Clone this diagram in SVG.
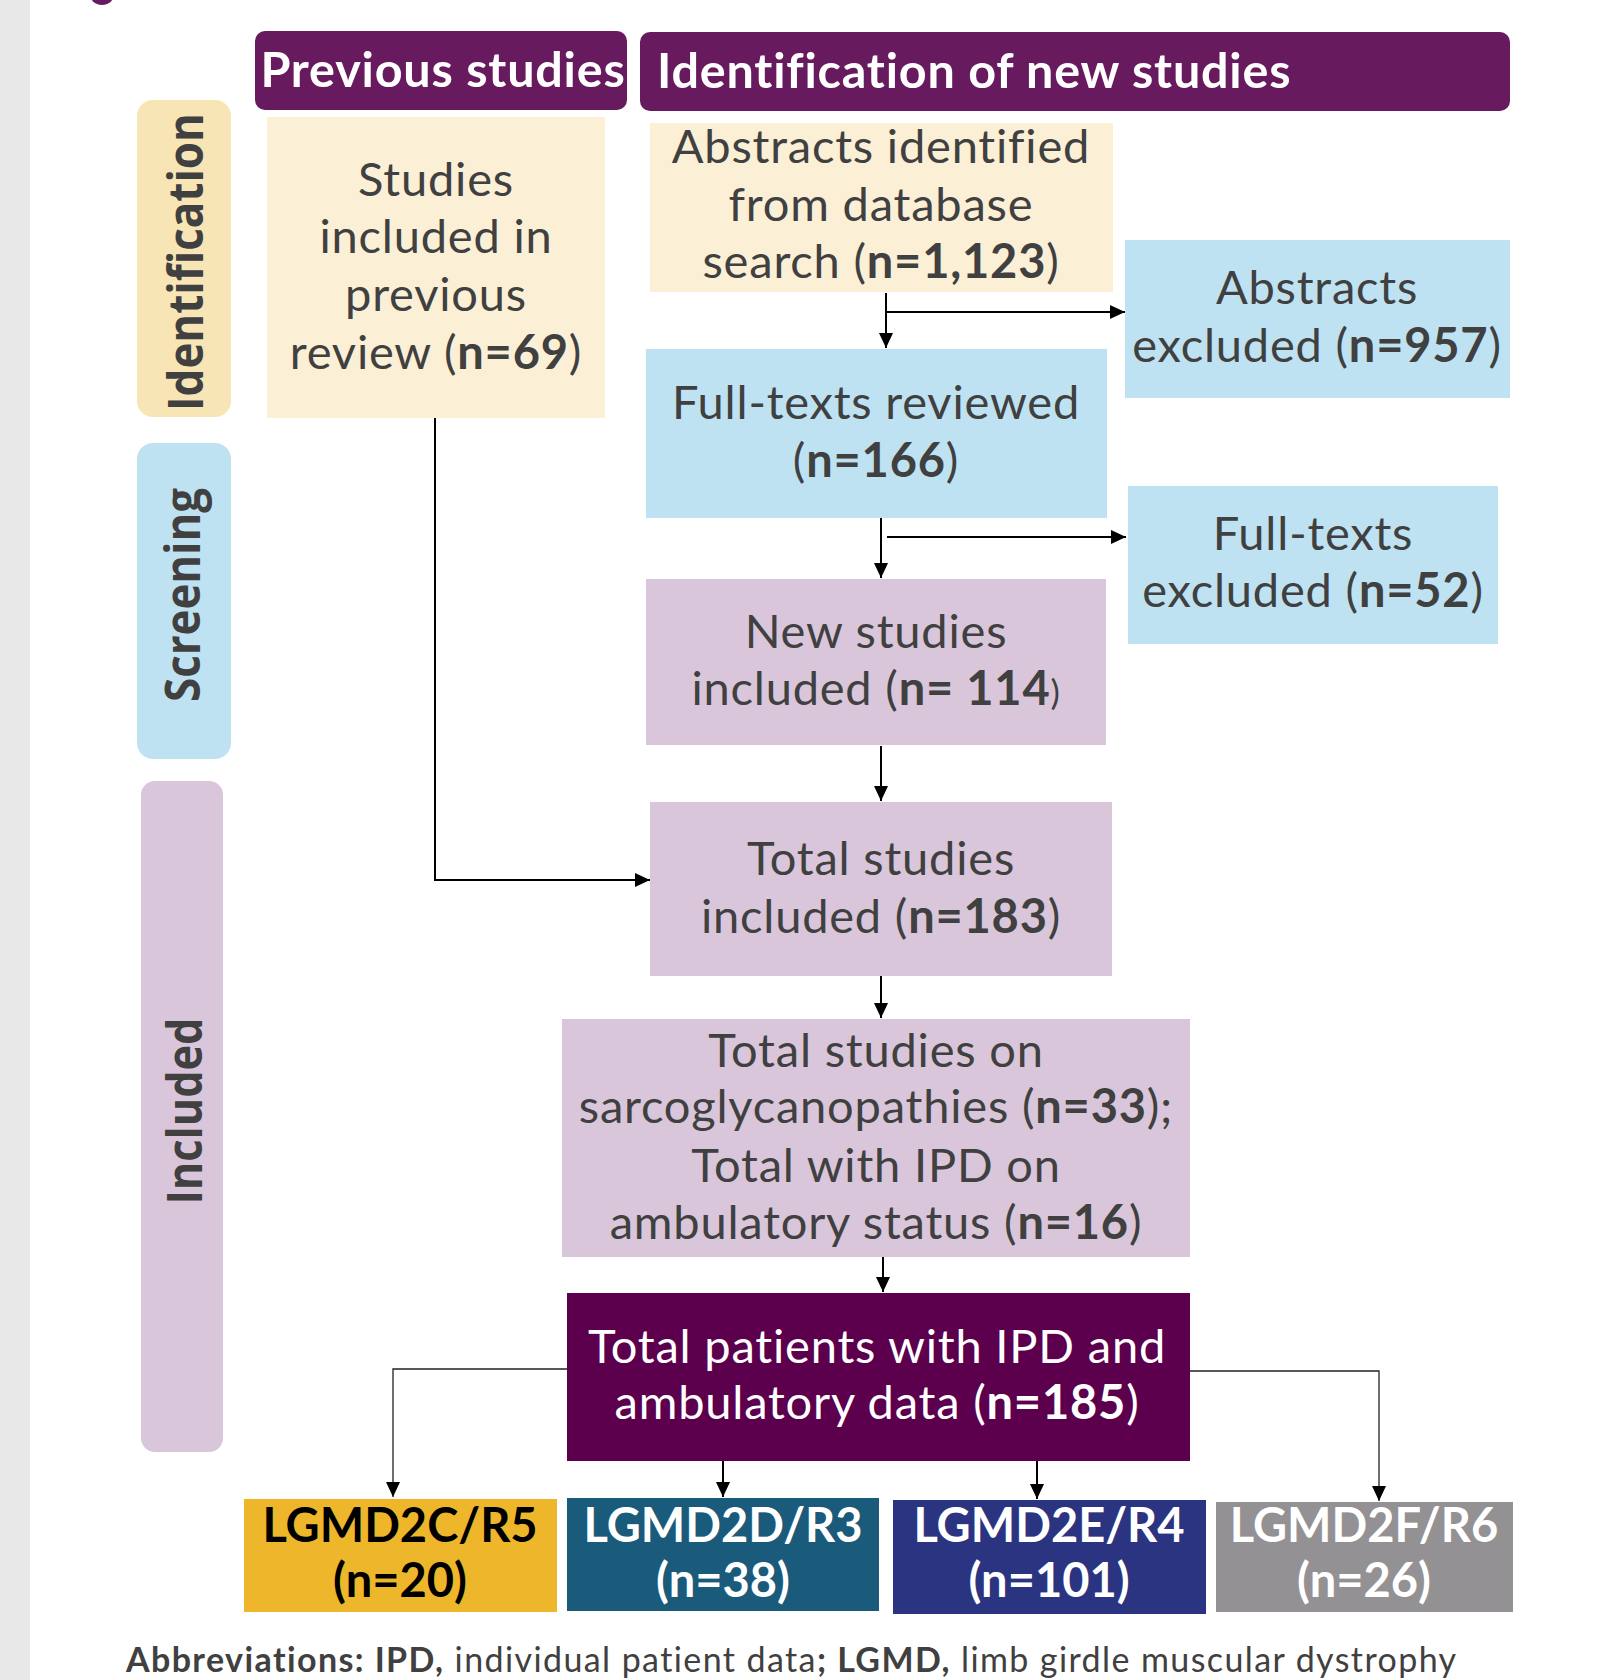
<svg xmlns="http://www.w3.org/2000/svg" width="1619" height="1680" viewBox="0 0 1619 1680">
<defs>
<style>
.t{font-family:Lato,'Liberation Sans',sans-serif;font-size:47px;letter-spacing:0.8px;fill:#404040;text-anchor:middle}
.w{fill:#ffffff}
.b{font-weight:700}
.hd{font-family:Lato,'Liberation Sans',sans-serif;font-weight:700;font-size:48.5px;letter-spacing:0.8px;fill:#ffffff}
.tab{font-family:'Open Sans','DejaVu Sans',sans-serif;font-weight:700;font-size:48px;fill:#404040;text-anchor:middle}
.lg{font-family:Lato,'Liberation Sans',sans-serif;font-weight:700;font-size:47px;text-anchor:middle}
.c{fill:none;stroke:#000;stroke-width:2}
.c1{fill:none;stroke:#222;stroke-width:1.3}
.cream{fill:#FBEFD6}
.blue{fill:#BEE2F2}
.lil{fill:#D9C6DA}
</style>
<marker id="ah" markerUnits="userSpaceOnUse" markerWidth="16" markerHeight="14" refX="15" refY="7" orient="auto"><path d="M0,0 L15,7 L0,14 z" fill="#000"/></marker>
</defs>
<rect x="0" y="0" width="1619" height="1680" fill="#ffffff"/>
<rect x="0" y="0" width="30" height="1680" fill="#E8E8E8"/>
<circle cx="102" cy="-8" r="13" fill="#671B5E"/>

<g id="tab-identification">
<rect x="137" y="100" width="94" height="317" rx="16" fill="#F7E5B5"/>
<text class="tab" transform="translate(203,262) rotate(-90)" textLength="298" lengthAdjust="spacingAndGlyphs">Identification</text>
</g>
<g id="tab-screening">
<rect x="137" y="443" width="94" height="316" rx="16" fill="#BEE2F2"/>
<text class="tab" transform="translate(200,595) rotate(-90)" textLength="214" lengthAdjust="spacingAndGlyphs">Screening</text>
</g>
<g id="tab-included">
<rect x="141" y="781" width="82" height="671" rx="14" fill="#D9C6DA"/>
<text class="tab" transform="translate(202,1111) rotate(-90)" textLength="187" lengthAdjust="spacingAndGlyphs">Included</text>
</g>

<g id="hdr-previous">
<rect x="255" y="31" width="372" height="79" rx="10" fill="#671B5E"/>
<text class="hd" x="443" y="87" text-anchor="middle">Previous studies</text>
</g>
<g id="hdr-new">
<rect x="640" y="32" width="870" height="79" rx="10" fill="#671B5E"/>
<text class="hd" x="657" y="88">Identification of new studies</text>
</g>

<g id="n-previous">
<rect class="cream" x="267" y="117" width="338" height="301"/>
<text class="t" x="436" y="196">Studies</text>
<text class="t" x="436" y="253">included in</text>
<text class="t" x="436" y="311">previous</text>
<text class="t" x="436" y="369">review (<tspan class="b">n=69</tspan>)</text>
</g>
<g id="n-abstracts">
<rect class="cream" x="650" y="123" width="463" height="169"/>
<text class="t" x="881" y="163">Abstracts identified</text>
<text class="t" x="881" y="221">from database</text>
<text class="t" x="881" y="278">search (<tspan class="b">n=1,123</tspan>)</text>
</g>
<g id="n-abs-excl">
<rect class="blue" x="1125" y="240" width="385" height="158"/>
<text class="t" x="1317" y="304">Abstracts</text>
<text class="t" x="1317" y="362">excluded (<tspan class="b">n=957</tspan>)</text>
</g>
<g id="n-fulltexts">
<rect class="blue" x="646" y="349" width="461" height="169"/>
<text class="t" x="876" y="419">Full-texts reviewed</text>
<text class="t" x="876" y="477">(<tspan class="b">n=166</tspan>)</text>
</g>
<g id="n-ft-excl">
<rect class="blue" x="1128" y="486" width="370" height="158"/>
<text class="t" x="1313" y="550">Full-texts</text>
<text class="t" x="1313" y="607">excluded (<tspan class="b">n=52</tspan>)</text>
</g>
<g id="n-new">
<rect class="lil" x="646" y="579" width="460" height="166"/>
<text class="t" x="876" y="648">New studies</text>
<text class="t" x="876" y="705">included (<tspan class="b">n= 114</tspan><tspan font-size="35">)</tspan></text>
</g>
<g id="n-total">
<rect class="lil" x="650" y="802" width="462" height="174"/>
<text class="t" x="881" y="875">Total studies</text>
<text class="t" x="881" y="933">included (<tspan class="b">n=183</tspan>)</text>
</g>
<g id="n-sarco">
<rect class="lil" x="562" y="1019" width="628" height="238"/>
<text class="t" x="876" y="1067">Total studies on</text>
<text class="t" x="876" y="1123">sarcoglycanopathies (<tspan class="b">n=33</tspan>);</text>
<text class="t" x="876" y="1182">Total with IPD on</text>
<text class="t" x="876" y="1239">ambulatory status (<tspan class="b">n=16</tspan>)</text>
</g>
<g id="n-patients">
<rect x="567" y="1293" width="623" height="168" fill="#5C004E"/>
<text class="t w" x="877" y="1363">Total patients with IPD and</text>
<text class="t w" x="877" y="1419">ambulatory data (<tspan class="b">n=185</tspan>)</text>
</g>
<g id="n-2c">
<rect x="244" y="1499" width="313" height="113" fill="#EEB72B"/>
<text class="lg" x="400" y="1542" fill="#000">LGMD2C/R5</text>
<text class="lg" x="400" y="1597" fill="#000">(n=20)</text>
</g>
<g id="n-2d">
<rect x="567" y="1498" width="312" height="113" fill="#1A5A7A"/>
<text class="lg" x="723" y="1542" fill="#fff">LGMD2D/R3</text>
<text class="lg" x="723" y="1597" fill="#fff">(n=38)</text>
</g>
<g id="n-2e">
<rect x="893" y="1500" width="313" height="114" fill="#2B3481"/>
<text class="lg" x="1049" y="1542" fill="#fff">LGMD2E/R4</text>
<text class="lg" x="1049" y="1597" fill="#fff">(n=101)</text>
</g>
<g id="n-2f">
<rect x="1216" y="1502" width="297" height="110" fill="#939193"/>
<text class="lg" x="1364" y="1542" fill="#fff">LGMD2F/R6</text>
<text class="lg" x="1364" y="1597" fill="#fff">(n=26)</text>
</g>

<g id="connectors">
<path class="c" d="M886,293 V348" marker-end="url(#ah)"/>
<path class="c" d="M886,312 H1125" marker-end="url(#ah)"/>
<path class="c" d="M881,518 V578" marker-end="url(#ah)"/>
<path class="c" d="M887,537 H1126" marker-end="url(#ah)"/>
<path class="c" d="M881,746 V801" marker-end="url(#ah)"/>
<path class="c" d="M435,418 V880 H650" marker-end="url(#ah)"/>
<path class="c" d="M881,976 V1018" marker-end="url(#ah)"/>
<path class="c" d="M883,1257 V1292" marker-end="url(#ah)"/>
<path class="c1" d="M567,1369 H393 V1497" marker-end="url(#ah)"/>
<path class="c" d="M723,1461 V1497" marker-end="url(#ah)"/>
<path class="c" d="M1037,1461 V1499" marker-end="url(#ah)"/>
<path class="c1" d="M1190,1371 H1379 V1501" marker-end="url(#ah)"/>
</g>

<text x="126" y="1672" font-family="Lato,'Liberation Sans',sans-serif" font-size="34" letter-spacing="1.4" fill="#404040"><tspan font-weight="700">Abbreviations: IPD,</tspan> individual patient data<tspan font-weight="700">; LGMD,</tspan> limb girdle muscular dystrophy</text>
</svg>
